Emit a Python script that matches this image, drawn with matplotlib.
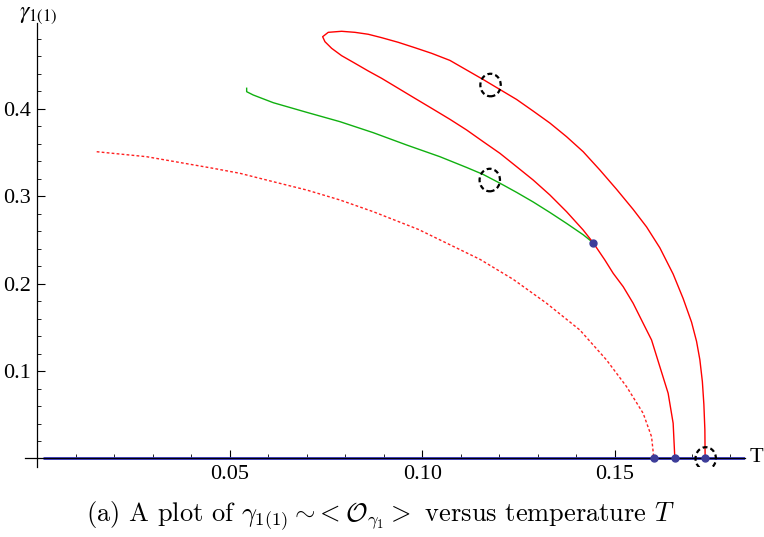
import matplotlib.pyplot as plt
from matplotlib.patches import Ellipse

# red solid branch: from lower axis crossing, up round the nose, down to the outer crossing
red_T = [0.16558, 0.16514, 0.16384, 0.16169, 0.15953, 0.15735, 0.15475, 0.15216,
         0.14956, 0.14740, 0.14436, 0.14177, 0.13745, 0.13312, 0.12878, 0.12447,
         0.12013, 0.11579, 0.11148, 0.10714, 0.10239, 0.09805, 0.09371, 0.08940,
         0.08592, 0.08247, 0.07901, 0.07642, 0.07468, 0.07408, 0.07553, 0.07901,
         0.08247, 0.08592, 0.08940, 0.09371, 0.09805, 0.10239, 0.10714, 0.11579,
         0.12013, 0.12447, 0.12878, 0.13312, 0.13745, 0.14177, 0.14610, 0.15044,
         0.15475, 0.15823, 0.16169, 0.16514, 0.16774, 0.16992, 0.17122, 0.17208,
         0.17273, 0.17312, 0.17338, 0.17345]
red_g = [0.0, 0.0403, 0.0746, 0.1050, 0.1356, 0.1547, 0.1776, 0.1966,
         0.2119, 0.2271, 0.2469, 0.2614, 0.2824, 0.3015, 0.3186, 0.3339,
         0.3492, 0.3625, 0.3759, 0.3881, 0.4007, 0.4121, 0.4236, 0.4350,
         0.4434, 0.4522, 0.4609, 0.4693, 0.4769, 0.4826, 0.4876, 0.4888,
         0.4876, 0.4854, 0.4815, 0.4762, 0.4700, 0.4636, 0.4555, 0.4336,
         0.4222, 0.4108, 0.3975, 0.3838, 0.3682, 0.3510, 0.3301, 0.3080,
         0.2850, 0.2650, 0.2410, 0.2110, 0.1830, 0.1560, 0.1340, 0.1130,
         0.0880, 0.0620, 0.0330, 0.0]

green_T = [0.05434, 0.05434, 0.05605, 0.06125, 0.06992, 0.07857, 0.08722, 0.09590,
           0.10455, 0.11148, 0.11579, 0.12013, 0.12447, 0.12878, 0.13312, 0.13745,
           0.14177, 0.14436]
green_g = [0.4236, 0.4197, 0.4159, 0.4071, 0.3961, 0.3854, 0.3728, 0.3587,
           0.3453, 0.3330, 0.3250, 0.3150, 0.3045, 0.2935, 0.2815, 0.2690,
           0.2560, 0.2469]

dot_T = [0.01538, 0.02836, 0.04566, 0.05260, 0.06125, 0.06992, 0.07857, 0.08722,
         0.09891, 0.11494, 0.12358, 0.13226, 0.14091, 0.14784, 0.15304, 0.15735,
         0.15953, 0.16013]
dot_g = [0.3510, 0.3453, 0.3320, 0.3263, 0.3167, 0.3072, 0.2958, 0.2824,
         0.2622, 0.2279, 0.2050, 0.1776, 0.1470, 0.1127, 0.0822, 0.0517,
         0.0249, 0.0]

pts_T = [0.14436, 0.16013, 0.16558, 0.17345]
pts_g = [0.2469, 0.0, 0.0, 0.0]

circ_T = [0.1177, 0.1175, 0.1736]
circ_g = [0.4273, 0.3186, 0.0]

fig = plt.figure(figsize=(7.64, 5.37), dpi=100)
ax = fig.add_axes([0.0327, 0.1304, 0.9424, 0.8268])
ax.set_xlim(-0.00325, 0.1838)
ax.set_ylim(-0.0097, 0.4983)

ax.plot([0.0015, 0.1838], [0, 0], color='#3838c8', lw=2.0, zorder=2, solid_capstyle='butt')
ax.plot(dot_T, dot_g, color='#ff2020', lw=1.0, linestyle=(0, (2, 1.6)))
ax.plot(green_T, green_g, color='#10b010', lw=1.0)
ax.plot(red_T, red_g, color='#ff0000', lw=1.0)
ax.plot(pts_T, pts_g, 'o', color='#3d3d99', ms=5, zorder=4)

for t, g in zip(circ_T, circ_g):
    ax.add_patch(Ellipse((t, g), 0.0053, 0.0258, fill=False, ec='black',
                         lw=1.6, linestyle=(0, (2.2, 1.4)), zorder=5))

for side in ['top', 'right']:
    ax.spines[side].set_visible(False)
ax.spines['left'].set_position(('data', 0))
ax.spines['bottom'].set_position(('data', 0))
ax.spines['left'].set_linewidth(0.9)
ax.spines['bottom'].set_linewidth(0.9)

ax.set_xticks([0.05, 0.10, 0.15])
ax.set_xticklabels(['0.05', '0.10', '0.15'])
ax.set_xticks([i / 100 for i in range(1, 19)], minor=True)
ax.set_yticks([0.1, 0.2, 0.3, 0.4])
ax.set_yticklabels(['0.1', '0.2', '0.3', '0.4'])
ax.set_yticks([i / 50 for i in range(1, 25)], minor=True)
ax.tick_params(which='major', direction='in', length=6, width=0.8, pad=5)
ax.tick_params(which='minor', direction='in', length=3, width=0.6)
for lab in ax.get_xticklabels() + ax.get_yticklabels():
    lab.set_fontfamily('Liberation Serif')
    lab.set_fontsize(16)

fig.text(38 / 764, 1 - 14 / 537, r'$\gamma_{1(1)}$', ha='center', va='center',
         fontsize=17, math_fontfamily='stix')
fig.text(756 / 764, 1 - 457 / 537, 'T', ha='center', va='center',
         fontsize=16, family='Liberation Serif')

fig.text(381 / 764, 1 - 516 / 537,
         r'(a) A plot of $\gamma_{1(1)} \sim\!< \mathcal{O}_{\gamma_1} >$ versus temperature $T$',
         ha='center', va='center', fontsize=19, family='cmr10', math_fontfamily='cm')

fig.savefig('out.png', dpi=100)
